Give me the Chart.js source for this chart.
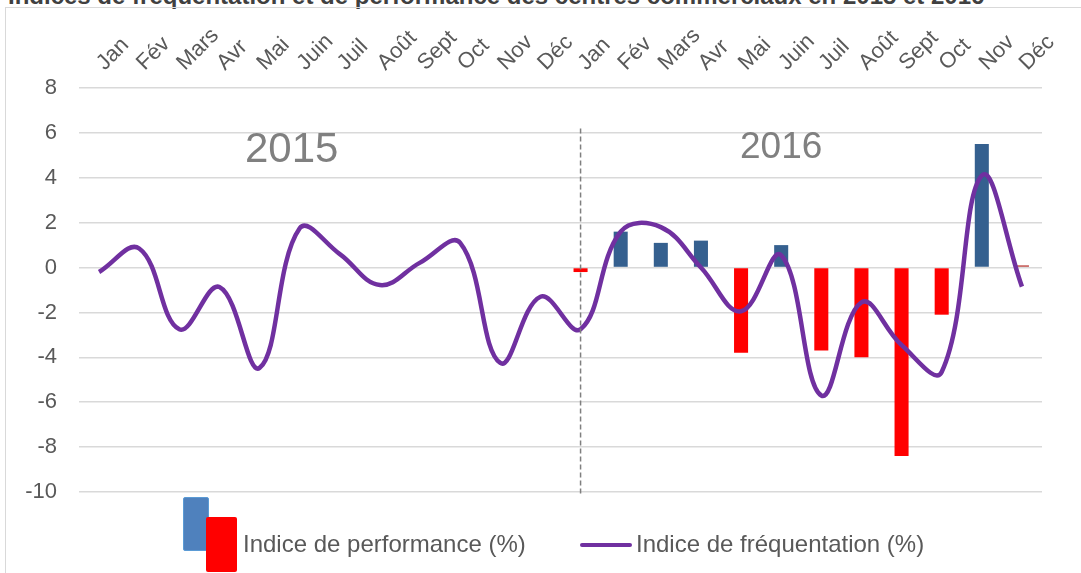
<!DOCTYPE html>
<html>
<head>
<meta charset="utf-8">
<script src="https://cdn.jsdelivr.net/npm/chart.js@4.4.1/dist/chart.umd.min.js"></script>
<style>
  html, body { margin: 0; padding: 0; background: #fff; overflow: hidden; }
  body { width: 1081px; height: 573px; position: relative; font-family: "Liberation Sans", Arial, sans-serif; }
  #title { position: absolute; left: 8px; top: -18px; font-size: 24px; font-weight: bold; color: #404040; white-space: nowrap; }
  #frame { position: absolute; left: 5px; top: 7px; width: 1200px; height: 700px; border: 1.5px solid #d9d9d9; }
  #wrap { position: absolute; left: 0; top: 0; width: 1081px; height: 573px; }
  .lg { position: absolute; font-size: 24px; color: #595959; white-space: nowrap; }
</style>
</head>
<body>
<div id="title">Indices de fréquentation et de performance des centres commerciaux en 2015 et 2016</div>
<div id="frame"></div>
<div id="wrap"><canvas id="chart"></canvas></div>

<!-- legend -->
<div style="position:absolute;left:183px;top:497px;width:24px;height:52px;background:#4f81bd;border:1.5px solid #5b9bd5;border-radius:2px;"></div>
<div style="position:absolute;left:206px;top:517px;width:31px;height:55px;background:#ff0000;border-radius:2px;"></div>
<div class="lg" style="left:243px;top:530px;">Indice de performance (%)</div>
<div style="position:absolute;left:580px;top:543px;width:52px;height:4px;background:#7030a0;border-radius:2px;"></div>
<div class="lg" style="left:636px;top:530px;">Indice de fréquentation (%)</div>

<script>
const months = ['Jan', 'Fév', 'Mars', 'Avr', 'Mai', 'Juin', 'Juil', 'Août', 'Sept', 'Oct', 'Nov', 'Déc'];
const labels = months.concat(months);

// Indice de fréquentation (%) - Jan 2015 .. Déc 2016
const frequentation = [-0.2, 0.85, -2.75, -0.87, -4.47, 1.75, 0.6, -0.78, 0.22, 1.1, -4.25, -1.3,
                       -2.75, 1.6, 1.8, 0.0, -1.95, 0.55, -5.7, -1.55, -3.45, -4.65, 4.1, -0.85];

// Indice de performance (%) - only 2016
const performance = [null, null, null, null, null, null, null, null, null, null, null, null,
                     -0.2, 1.6, 1.1, 1.2, -3.8, 1.0, -3.7, -4.0, -8.4, -2.1, 5.5, 0.1];

const yTicks = [8, 6, 4, 2, 0, -2, -4, -6, -8, -10];
const years = ['2015', '2016'];

const barColors = performance.map(v => v === null ? 'transparent' : (v < 0 ? '#ff0000' : (v < 0.5 ? '#c0504d' : '#35608f')));

// year labels + dashed separator
const yearPlugin = {
    id: 'years',
    afterDatasetsDraw(chart) {
        const ctx = chart.ctx;
        const x = chart.scales.x;
        const y = chart.scales.y;
        const sep = x.getPixelForValue(12);
        ctx.save();
        ctx.strokeStyle = '#7f7f7f';
        ctx.lineWidth = 1.5;
        ctx.setLineDash([5, 3]);
        ctx.beginPath();
        ctx.moveTo(sep, y.getPixelForValue(6.2));
        ctx.lineTo(sep, y.getPixelForValue(-10.2));
        ctx.stroke();
        ctx.setLineDash([]);
        ctx.fillStyle = '#808080';
        ctx.textAlign = 'center';
        ctx.textBaseline = 'middle';
        ctx.font = '42px "Liberation Sans", Arial, sans-serif';
        ctx.fillText(years[0], x.getPixelForValue(4.8), y.getPixelForValue(5.2));
        ctx.font = '37px "Liberation Sans", Arial, sans-serif';
        ctx.fillText(years[1], x.getPixelForValue(17.0), y.getPixelForValue(5.35));
        ctx.restore();
    }
};

new Chart(document.getElementById('chart'), {
    data: {
        labels: labels,
        datasets: [
            {
                type: 'line',
                label: 'Indice de fréquentation (%)',
                data: frequentation,
                borderColor: '#7030a0',
                borderWidth: 4.5,
                pointRadius: 0,
                tension: 0.4,
                fill: false,
                order: 0
            },
            {
                type: 'bar',
                label: 'Indice de performance (%)',
                data: performance,
                backgroundColor: barColors,
                barPercentage: 0.7,
                categoryPercentage: 0.5,
                order: 1
            }
        ]
    },
    options: {
        responsive: true,
        maintainAspectRatio: false,
        animation: false,
        layout: { padding: { left: 0, right: 39, top: 0, bottom: 81 } },
        scales: {
            x: {
                position: 'top',
                grid: { display: false, drawTicks: false },
                border: { display: false },
                ticks: {
                    autoSkip: false,
                    maxRotation: 45,
                    minRotation: 45,
                    padding: 12,
                    labelOffset: 20,
                    color: '#595959',
                    font: { family: '"Liberation Sans", Arial, sans-serif', size: 22 }
                },
                afterFit(scale) { scale.height = 88; }
            },
            y: {
                min: -10,
                max: 8,
                grid: { color: '#d9d9d9', lineWidth: 1.5, drawTicks: false },
                border: { display: false },
                ticks: {
                    stepSize: 2,
                    padding: 22,
                    color: '#595959',
                    font: { family: '"Liberation Sans", Arial, sans-serif', size: 22 }
                },
                afterBuildTicks(scale) { scale.ticks = yTicks.map(v => ({ value: v })); },
                afterFit(scale) { scale.width = 79; }
            }
        },
        plugins: {
            legend: { display: false },
            tooltip: { enabled: false }
        }
    },
    plugins: [yearPlugin]
});
</script>
</body>
</html>
